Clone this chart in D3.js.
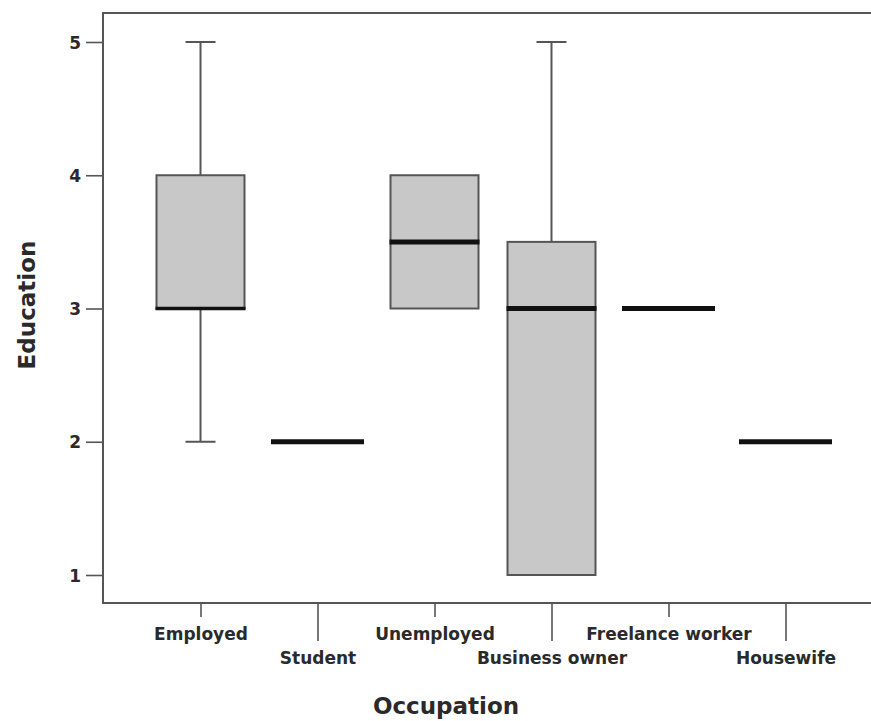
<!DOCTYPE html>
<html>
<head>
<meta charset="utf-8">
<script src="https://cdn.jsdelivr.net/npm/d3@7"></script>
<style>
  html, body { margin: 0; padding: 0; background: #fff; }
  svg { display: block; }
  text { font-family: "DejaVu Sans", Verdana, sans-serif; font-weight: bold; fill: #2a2a2a; }
</style>
</head>
<body>
<svg id="chart" width="871" height="721"></svg>
<script>
// Occupation groups and their five-number summaries of Education
const categories = ["Employed", "Student", "Unemployed", "Business owner", "Freelance worker", "Housewife"];
const minimums  = [2, 2, 3,   1,   3, 2];
const lowerQuartiles = [3, 2, 3,   1,   3, 2];
const medians   = [3, 2, 3.5, 3,   3, 2];
const upperQuartiles = [4, 2, 4,   3.5, 3, 2];
const maximums  = [5, 2, 4,   5,   3, 2];
const yTicks = [1, 2, 3, 4, 5];

const boxes = categories.map((c, i) => ({
  name: c, min: minimums[i], q1: lowerQuartiles[i], med: medians[i],
  q3: upperQuartiles[i], max: maximums[i], i
}));

const svg = d3.select("#chart");
const frame = { left: 103, top: 13, right: 880, bottom: 603 };

const x = d3.scalePoint().domain(categories).range([200.5, 785.5]);
const y = d3.scaleLinear().domain([1, 5]).range([575, 42]);

const boxW = 88, medW = 93, capW = 30;
const lineColor = "#555";

// Frame: left axis, top and bottom rules (plot runs past the right edge)
svg.append("path")
  .attr("d", `M${frame.right},${frame.top}H${frame.left}V${frame.bottom}H${frame.right}`)
  .attr("fill", "none").attr("stroke", lineColor).attr("stroke-width", 2);

// Y axis
const yAxis = svg.append("g").attr("transform", `translate(${frame.left},0)`)
  .call(d3.axisLeft(y).tickValues(yTicks).tickFormat(d3.format("d")).tickSize(17).tickPadding(5));
yAxis.select(".domain").remove();
yAxis.selectAll(".tick line").attr("stroke", lineColor).attr("stroke-width", 1.6);
yAxis.selectAll(".tick text").attr("font-size", 17).attr("dy", "0.36em").attr("fill", "#2a2a2a");

// X axis with staggered labels
const xAxis = svg.append("g").attr("transform", `translate(0,${frame.bottom})`)
  .call(d3.axisBottom(x).tickSize(0).tickFormat(""));
xAxis.select(".domain").remove();
xAxis.selectAll(".tick").each(function (d, i) {
  const g = d3.select(this);
  const long = i % 2 === 1;
  g.append("line").attr("y1", 0).attr("y2", long ? 38 : 14)
    .attr("stroke", lineColor).attr("stroke-width", 1.6);
  g.append("text").attr("y", long ? 55 : 31).attr("dy", "0.36em")
    .attr("text-anchor", "middle").attr("font-size", 17).text(d);
});

const g = svg.append("g");

// Whiskers
boxes.filter(b => b.max > b.q3 || b.min < b.q1).forEach(b => {
  const cx = x(b.name);
  if (b.max > b.q3) {
    g.append("line").attr("x1", cx).attr("x2", cx).attr("y1", y(b.q3)).attr("y2", y(b.max))
      .attr("stroke", lineColor).attr("stroke-width", 2);
    g.append("line").attr("x1", cx - capW / 2).attr("x2", cx + capW / 2).attr("y1", y(b.max)).attr("y2", y(b.max))
      .attr("stroke", lineColor).attr("stroke-width", 2);
  }
  if (b.min < b.q1) {
    g.append("line").attr("x1", cx).attr("x2", cx).attr("y1", y(b.q1)).attr("y2", y(b.min))
      .attr("stroke", lineColor).attr("stroke-width", 2);
    g.append("line").attr("x1", cx - capW / 2).attr("x2", cx + capW / 2).attr("y1", y(b.min)).attr("y2", y(b.min))
      .attr("stroke", lineColor).attr("stroke-width", 2);
  }
});

// Boxes (interquartile range)
g.selectAll("rect.box").data(boxes.filter(b => b.q3 > b.q1)).join("rect")
  .attr("class", "box")
  .attr("x", b => x(b.name) - boxW / 2)
  .attr("width", boxW)
  .attr("y", b => y(b.q3))
  .attr("height", b => y(b.q1) - y(b.q3))
  .attr("fill", "#c8c8c8").attr("stroke", lineColor).attr("stroke-width", 2);

// Medians
g.selectAll("line.median").data(boxes).join("line")
  .attr("class", "median")
  .attr("x1", b => x(b.name) - (b.q3 > b.q1 ? boxW / 2 + 1 : medW / 2))
  .attr("x2", b => x(b.name) + (b.q3 > b.q1 ? boxW / 2 + 1 : medW / 2))
  .attr("y1", b => y(b.med)).attr("y2", b => y(b.med))
  .attr("stroke", "#111")
  .attr("stroke-width", b => b.med === b.q1 && b.q3 > b.q1 ? 3.5 : 5);

// Axis titles
svg.append("text").attr("x", 446).attr("y", 706).attr("dy", "0.36em")
  .attr("text-anchor", "middle").attr("font-size", 23).text("Occupation");
svg.append("text").attr("transform", "translate(27,305) rotate(-90)").attr("dy", "0.36em")
  .attr("text-anchor", "middle").attr("font-size", 23).text("Education");
</script>
</body>
</html>
